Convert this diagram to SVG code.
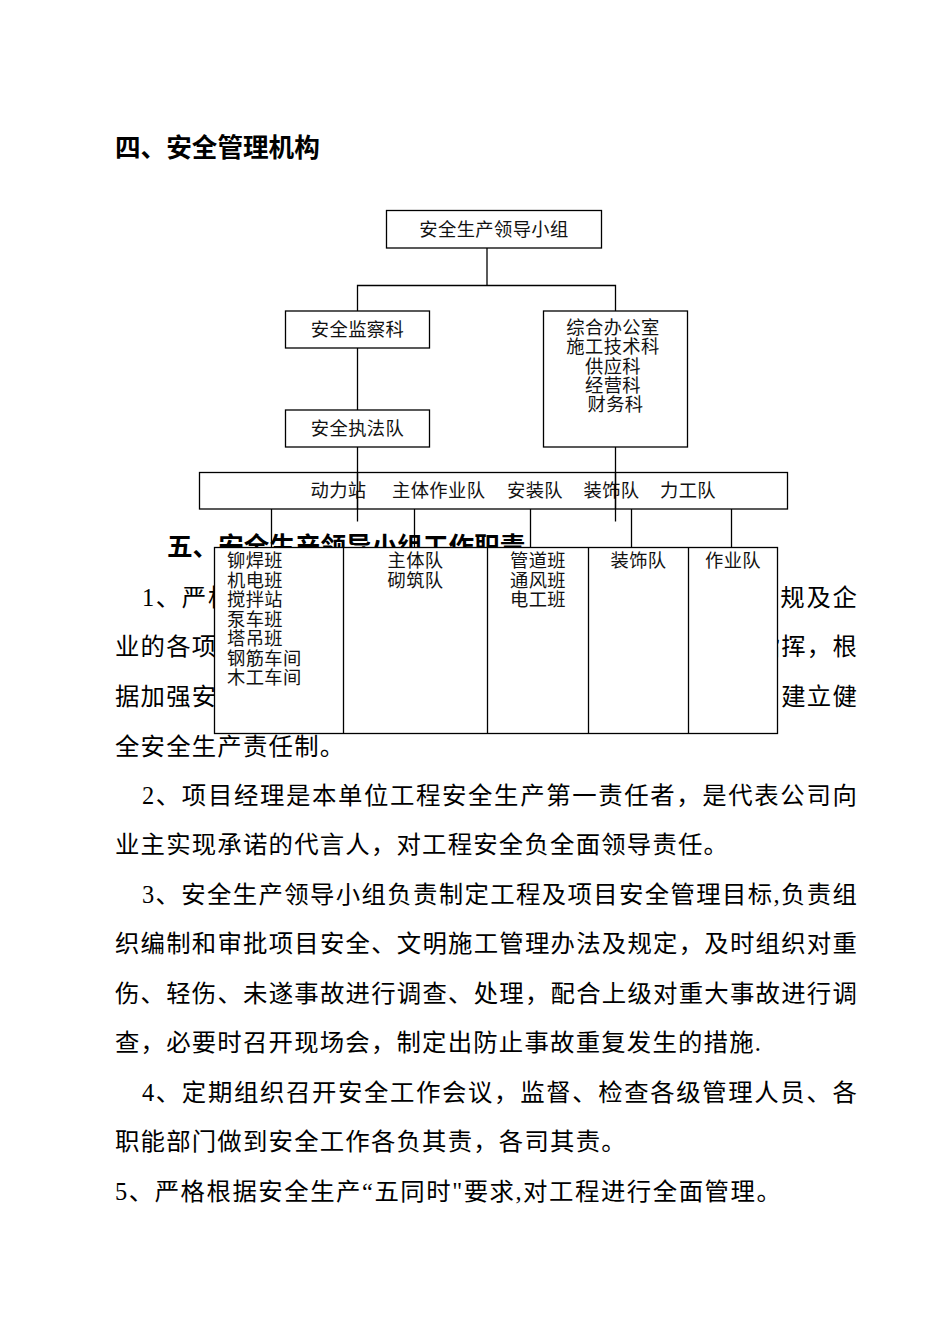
<svg xmlns="http://www.w3.org/2000/svg" width="950" height="1344" viewBox="0 0 950 1344">
<style>
.body{font-family:"Liberation Serif","Noto Sans CJK SC",serif;font-size:24.4px;letter-spacing:1.2px;fill:#000}
.bold{font-family:"Liberation Serif","Noto Sans CJK SC",serif;font-size:25.6px;font-weight:bold;fill:#000}
.lbl{font-family:"Liberation Serif","Noto Sans CJK SC",serif;font-size:18.3px;letter-spacing:0.4px;fill:#111}
.c{text-anchor:middle}
.box{fill:#fff;stroke:#000;stroke-width:1.3}
.open{fill:none;stroke:#000;stroke-width:1.3}
.ln{fill:none;stroke:#000;stroke-width:1.3}
</style>
<rect x="0" y="0" width="950" height="1344" fill="#fff"/>

<text class="bold" x="115" y="157">四、安全管理机构</text>

<g id="body-text">
<text class="bold" x="167" y="556">五、安全生产领导小组工作职责</text>
<text class="body" x="142" y="605.5" textLength="716" lengthAdjust="spacing">1、严格执行国家有关安全生产的方针、政策和法律、法规及企</text>
<text class="body" x="115" y="655" textLength="743" lengthAdjust="spacing">业的各项规章制度，服从上级安全生产管理部门的领导和指挥，根</text>
<text class="body" x="115" y="704.5" textLength="743" lengthAdjust="spacing">据加强安全生产管理的要求结合本工程实际情况制定措施，建立健</text>
<text class="body" x="115" y="754.5">全安全生产责任制。</text>
<text class="body" x="142" y="803.5" textLength="716" lengthAdjust="spacing">2、项目经理是本单位工程安全生产第一责任者，是代表公司向</text>
<text class="body" x="115" y="853">业主实现承诺的代言人，对工程安全负全面领导责任。</text>
<text class="body" x="142" y="902.5" textLength="716" lengthAdjust="spacing">3、安全生产领导小组负责制定工程及项目安全管理目标,负责组</text>
<text class="body" x="115" y="952" textLength="743" lengthAdjust="spacing">织编制和审批项目安全、文明施工管理办法及规定，及时组织对重</text>
<text class="body" x="115" y="1001.5" textLength="743" lengthAdjust="spacing">伤、轻伤、未遂事故进行调查、处理，配合上级对重大事故进行调</text>
<text class="body" x="115" y="1051">查，必要时召开现场会，制定出防止事故重复发生的措施.</text>
<text class="body" x="142" y="1100.5" textLength="716" lengthAdjust="spacing">4、定期组织召开安全工作会议，监督、检查各级管理人员、各</text>
<text class="body" x="115" y="1150">职能部门做到安全工作各负其责，各司其责。</text>
<text class="body" x="115" y="1199.5" textLength="667" lengthAdjust="spacing">5、严格根据安全生产“五同时"要求,对工程进行全面管理。</text>
</g>

<g id="connectors">
<polyline class="ln" points="487,248 487,285.5"/>
<polyline class="ln" points="357.5,311 357.5,285.5 615.5,285.5 615.5,311"/>
<line class="ln" x1="357.5" y1="348" x2="357.5" y2="410"/>
<line class="ln" x1="357.5" y1="447" x2="357.5" y2="521.5"/>
<line class="ln" x1="615.5" y1="447" x2="615.5" y2="521.5"/>
<line class="ln" x1="271.5" y1="509" x2="271.5" y2="547"/>
<line class="ln" x1="414.5" y1="509" x2="414.5" y2="547"/>
<line class="ln" x1="530.5" y1="509" x2="530.5" y2="547"/>
<line class="ln" x1="631.5" y1="509" x2="631.5" y2="547"/>
<line class="ln" x1="731.5" y1="509" x2="731.5" y2="547"/>
</g>

<g id="node-teams">
<rect class="box" x="214.5" y="547.5" width="563" height="186"/>
<line class="ln" x1="343.5" y1="547.5" x2="343.5" y2="733.5"/>
<line class="ln" x1="487.5" y1="547.5" x2="487.5" y2="733.5"/>
<line class="ln" x1="588.5" y1="547.5" x2="588.5" y2="733.5"/>
<line class="ln" x1="688.5" y1="547.5" x2="688.5" y2="733.5"/>
<text class="lbl" x="227">
<tspan x="227" y="567">铆焊班</tspan>
<tspan x="227" y="586.5">机电班</tspan>
<tspan x="227" y="606">搅拌站</tspan>
<tspan x="227" y="625.5">泵车班</tspan>
<tspan x="227" y="645">塔吊班</tspan>
<tspan x="227" y="664.5">钢筋车间</tspan>
<tspan x="227" y="684">木工车间</tspan>
</text>
<text class="lbl c"><tspan x="415.5" y="567">主体队</tspan><tspan x="415.5" y="586.5">砌筑队</tspan></text>
<text class="lbl c"><tspan x="538" y="567">管道班</tspan><tspan x="538" y="586.5">通风班</tspan><tspan x="538" y="606">电工班</tspan></text>
<text class="lbl c" x="638.5" y="567">装饰队</text>
<text class="lbl c" x="733" y="567">作业队</text>
</g>

<g id="node-top">
<rect class="box" x="386.5" y="210.5" width="215" height="37.5"/>
<text class="lbl c" x="494" y="236">安全生产领导小组</text>
</g>

<g id="node-jiancha">
<rect class="box" x="285.5" y="311" width="144" height="37"/>
<text class="lbl c" x="357.5" y="336">安全监察科</text>
</g>

<g id="node-zhifa">
<rect class="box" x="285.5" y="410" width="144" height="37"/>
<text class="lbl c" x="357.5" y="435">安全执法队</text>
</g>

<g id="node-offices">
<rect class="box" x="543.5" y="311" width="144" height="136"/>
<text class="lbl c">
<tspan x="615.5" y="334">综合办公室</tspan>
<tspan x="615.5" y="353.3">施工技术科</tspan>
<tspan x="615.5" y="372.6">供应科</tspan>
<tspan x="615.5" y="391.9">经营科</tspan>
<tspan x="615.5" y="411.2">财务科</tspan>
</text>
</g>

<g id="node-bar">
<rect class="open" x="199.5" y="472.5" width="588" height="36.5"/>
<text class="lbl"><tspan x="310.5" y="497">动力站</tspan><tspan x="392" y="497">主体作业队</tspan><tspan x="507" y="497">安装队</tspan><tspan x="583.5" y="497">装饰队</tspan><tspan x="660" y="497">力工队</tspan></text>
</g>
<line class="ln" x1="357.5" y1="472.5" x2="357.5" y2="509"/>
<line class="ln" x1="615.5" y1="472.5" x2="615.5" y2="509"/>
</svg>
